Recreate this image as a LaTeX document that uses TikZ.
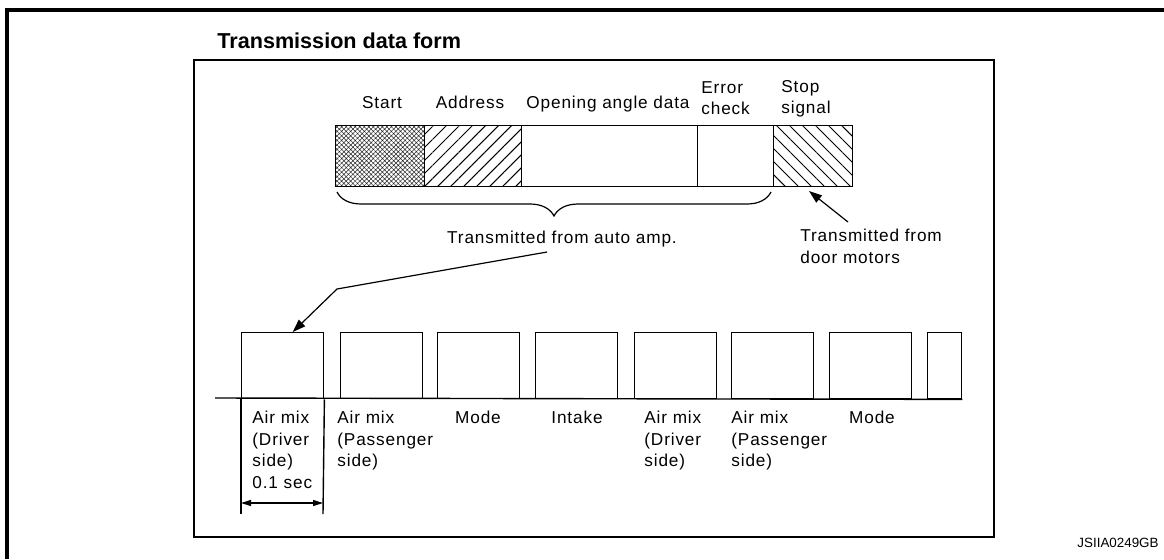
\documentclass[tikz,border=0pt]{standalone}
\usepackage{fontspec}
\setmainfont{Liberation Sans}
\newfontfamily\lblfont[LetterSpace=5]{Liberation Sans}
\usepackage{tikz}
\usetikzlibrary{patterns.meta, arrows.meta, decorations.pathreplacing}

\begin{document}
\begin{tikzpicture}[x=0.5pt, y=-0.5pt]
            %Block styles
            \tikzstyle{seg} = [draw, rectangle, anchor=north west, minimum height=30.5pt, inner sep=0pt, line width=0.7pt]
            \tikzstyle{pulse} = [draw, rectangle, anchor=north west, minimum height=33pt, minimum width=41pt, inner sep=0pt, line width=0.7pt]
            \tikzstyle{lbl} = [inner sep=0pt, align=left, font=\lblfont\fontsize{8.6pt}{10.7pt}\selectfont]
            \tikzstyle{pointer} = [line width=0.6pt, -{Triangle[length=6.5pt, width=4.5pt]}]

            \useasboundingbox (0,0) rectangle (1164,559);

            %Frames
            \draw[line width=1.7pt] (7,559) -- (7,10) -- (1164,10);
            \draw[line width=0.7pt] (194,60) rectangle (994,537);
            \node[anchor=west, inner sep=0pt, font=\bfseries\fontsize{10.8pt}{13pt}\selectfont] (title) at (217,41) {Transmission data form};

            %Data form
            \node[seg, minimum width=44.5pt, pattern={Hatch[angle=45, distance=1.6pt, line width=0.25pt]}, pattern color=black!85] (start) at (335,125) {};
            \node[seg, minimum width=48.5pt, pattern={Lines[angle=45, distance=4.6pt, line width=0.5pt]}] (addr) at (424,125) {};
            \node[seg, minimum width=88pt] (data) at (521,125) {};
            \node[seg, minimum width=38pt] (check) at (697,125) {};
            \node[seg, minimum width=39.5pt, pattern={Lines[angle=-45, distance=4.6pt, line width=0.5pt]}] (stop) at (773,125) {};

            \node[lbl, anchor=base] (startlbl) at (382,108) {Start};
            \node[lbl, anchor=base] (addrlbl) at (470,108) {Address};
            \node[lbl, anchor=base] (datalbl) at (608,108) {Opening angle data};
            \node[lbl, anchor=north west] (checklbl) at (701,81) {Error\\check};
            \node[lbl, anchor=north west] (stoplbl) at (781,80) {Stop\\signal};

            %Brace and senders
            \draw[decorate, decoration={brace, mirror, amplitude=12pt}, line width=0.6pt] (337,192) -- (771,192);
            \node[lbl, anchor=base] (automsg) at (562,243) {Transmitted from auto amp.};
            \node[lbl, anchor=north west] (doormsg) at (800,229) {Transmitted from\\door motors};
            \coordinate (dmtail) at (848,222);
            \draw[pointer] (dmtail) -- ([shift={(-2pt,-2pt)}]stop.south);

            %Time chart
            \node[pulse] (p1) at (241,332) {};
            \node[pulse] (p2) at (340,332) {};
            \node[pulse] (p3) at (437,332) {};
            \node[pulse] (p4) at (535,332) {};
            \node[pulse] (p5) at (634,332) {};
            \node[pulse] (p6) at (731,332) {};
            \node[pulse] (p7) at (829,332) {};
            \node[pulse, minimum width=17pt] (p8) at (927,332) {};
            \coordinate (t0) at (215,398);
            \draw[line width=0.7pt] (t0) -- (p8.south east);

            \coordinate (tail) at (547,252);
            \coordinate (bend) at (337,289);
            \draw[pointer] (tail) -- (bend) -- ([xshift=5pt]p1.north);

            %Period of one frame
            \coordinate (e1) at (241,514);
            \coordinate (e2) at (323,514);
            \coordinate (d1) at (241,503);
            \coordinate (d2) at (323,503);
            \draw[line width=0.7pt] (p1.south west) -- (e1);
            \draw[line width=0.7pt] (p1.south east) -- (e2);
            \draw[line width=0.6pt, {Triangle[length=5pt, width=3pt]}-{Triangle[length=5pt, width=3pt]}] (d1) -- (d2);

            \node[lbl, anchor=north west] (l1) at (252,411) {Air mix\\(Driver\\side)\\0.1 sec};
            \node[lbl, anchor=north west] (l2) at (337,411) {Air mix\\(Passenger\\side)};
            \node[lbl, anchor=north] (l3) at (478,411) {Mode};
            \node[lbl, anchor=north] (l4) at (577,411) {Intake};
            \node[lbl, anchor=north west] (l5) at (644,411) {Air mix\\(Driver\\side)};
            \node[lbl, anchor=north west] (l6) at (731,411) {Air mix\\(Passenger\\side)};
            \node[lbl, anchor=north] (l7) at (872,411) {Mode};

            \node[anchor=east, inner sep=0pt, font=\fontsize{6.7pt}{8pt}\selectfont] (code) at (1159,543) {JSIIA0249GB};
        \end{tikzpicture}
\end{document}
